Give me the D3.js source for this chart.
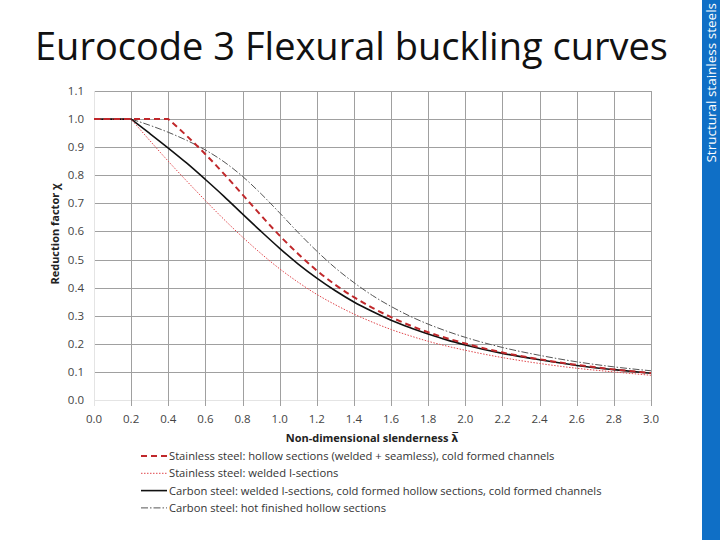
<!DOCTYPE html>
<html>
<head>
<meta charset="utf-8">
<script src="https://cdn.jsdelivr.net/npm/d3@7"></script>
<style>
  body { margin: 0; background: #fff; }
  svg text { font-family: "Open Sans", "DejaVu Sans", sans-serif; }
</style>
</head>
<body>
<svg id="chart" width="720" height="540"></svg>
<script>
// slenderness values shared by all curves
var lambdas = [0, 0.2, 0.3, 0.4, 0.5, 0.6, 0.7, 0.8, 0.9, 1.0, 1.1, 1.2, 1.3, 1.4, 1.5, 1.6, 1.7, 1.8, 1.9, 2.0, 2.2, 2.4, 2.6, 2.8, 3.0];

// reduction factor
var ssHollow  = [1, 1, 1, 1, 0.940, 0.875, 0.805, 0.731, 0.657, 0.585, 0.520, 0.461, 0.410, 0.366, 0.328, 0.295, 0.266, 0.241, 0.220, 0.201, 0.169, 0.145, 0.125, 0.109, 0.096];
var ssWeldedI = [1, 1, 0.924, 0.850, 0.779, 0.710, 0.643, 0.580, 0.521, 0.467, 0.419, 0.376, 0.339, 0.306, 0.277, 0.251, 0.229, 0.209, 0.192, 0.177, 0.151, 0.130, 0.113, 0.100, 0.088];
var csWelded  = [1, 1, 0.949, 0.897, 0.843, 0.785, 0.725, 0.662, 0.600, 0.540, 0.484, 0.434, 0.389, 0.349, 0.315, 0.284, 0.258, 0.235, 0.214, 0.196, 0.166, 0.143, 0.123, 0.108, 0.095];
var csHotFin  = [1, 1, 0.978, 0.953, 0.924, 0.890, 0.848, 0.796, 0.734, 0.666, 0.596, 0.530, 0.470, 0.418, 0.372, 0.333, 0.299, 0.270, 0.245, 0.223, 0.187, 0.159, 0.136, 0.118, 0.104];
// index where each curve leaves the plateau
var plateauEnd = [3, 1, 1, 1];

var seriesNames = [
  "Stainless steel: hollow sections (welded + seamless), cold formed channels",
  "Stainless steel: welded I-sections",
  "Carbon steel: welded I-sections, cold formed hollow sections, cold formed channels",
  "Carbon steel: hot finished hollow sections"
];
var xTicks = d3.range(0, 3.01, 0.2);
var yTicks = d3.range(0, 1.11, 0.1);

var svg = d3.select("#chart");

var x = d3.scaleLinear().domain([0, 3]).range([94, 651]);
var y = d3.scaleLinear().domain([0, 1.1]).range([400, 91]);

// side band
svg.append("rect").attr("x", 702).attr("y", 0).attr("width", 18).attr("height", 540).style("fill", "#0f6fc6");
svg.append("text")
  .attr("transform", "translate(715.5,3) rotate(-90)")
  .attr("text-anchor", "end")
  .style("font-size", "13.5px")
  .style("fill", "#fff")
  .text("Structural stainless steels");

svg.append("text")
  .attr("x", 35).attr("y", 60)
  .style("font-size", "38px")
  .style("fill", "#111")
  .text("Eurocode 3 Flexural buckling curves");

// grid
var grid = svg.append("g");
grid.selectAll("line.h").data(yTicks).enter().append("line")
  .attr("x1", x(0)).attr("x2", x(3))
  .attr("y1", function(d) { return Math.round(y(d)) + 0.5 })
  .attr("y2", function(d) { return Math.round(y(d)) + 0.5 })
  .style("stroke", function(d, i) { return i == 0 ? "#e4e4e4" : "#a0a0a0" })
  .style("stroke-width", 1);
grid.selectAll("line.v").data(xTicks).enter().append("line")
  .attr("y1", y(1.1)).attr("y2", 406)
  .attr("x1", function(d) { return Math.round(x(d)) + 0.5 })
  .attr("x2", function(d) { return Math.round(x(d)) + 0.5 })
  .style("stroke", function(d, i) { return i == 0 ? "#e4e4e4" : "#a0a0a0" })
  .style("stroke-width", 1);

// tick labels
svg.append("g").selectAll("text").data(yTicks).enter().append("text")
  .attr("x", 84).attr("y", function(d) { return y(d) + 4 })
  .attr("text-anchor", "end")
  .style("font-size", "11.5px").style("fill", "#444")
  .text(function(d) { return d3.format(".1f")(d) });
svg.append("g").selectAll("text").data(xTicks).enter().append("text")
  .attr("x", function(d) { return x(d) }).attr("y", 423)
  .attr("text-anchor", "middle")
  .style("font-size", "11.5px").style("fill", "#444")
  .text(function(d) { return d3.format(".1f")(d) });

svg.append("text")
  .attr("transform", "translate(59,234) rotate(-90)")
  .attr("text-anchor", "middle")
  .style("font-size", "11px").style("font-weight", "bold").style("fill", "#222")
  .text("Reduction factor χ");
svg.append("text")
  .attr("x", 372).attr("y", 442)
  .attr("text-anchor", "middle")
  .style("font-size", "11px").style("font-weight", "bold").style("fill", "#222")
  .text("Non-dimensional slenderness λ\u0305");

var styles = [
  {color: "#c0282b", width: 2, dash: "6,4"},
  {color: "#e0474c", width: 1, dash: "1.5,1.5"},
  {color: "#111111", width: 1.6, dash: null},
  {color: "#555555", width: 1, dash: "7,2,1.5,2"}
];
var allSeries = [ssHollow, ssWeldedI, csWelded, csHotFin];

var line = d3.line()
  .x(function(d) { return x(d[0]) })
  .y(function(d) { return y(d[1]) })
  .curve(d3.curveMonotoneX);

// draw carbon first, stainless on top; plateau straight, sharp kink, then smooth curve
[3, 2, 1, 0].forEach(function(s) {
  var pts = lambdas.map(function(l, i) { return [l, allSeries[s][i]] });
  var k = plateauEnd[s];
  var d = "M" + x(pts[0][0]) + "," + y(pts[0][1]) + line(pts.slice(k)).replace(/^M/, "L");
  svg.append("path")
    .attr("d", d)
    .style("fill", "none")
    .style("stroke", styles[s].color)
    .style("stroke-width", styles[s].width)
    .style("stroke-dasharray", styles[s].dash);
});

// legend
var leg = svg.append("g").selectAll("g").data(seriesNames).enter().append("g")
  .attr("transform", function(d, i) { return "translate(141," + (456 + i * 17.3) + ")" });
leg.append("line")
  .attr("x1", 0).attr("x2", 26).attr("y1", 0).attr("y2", 0)
  .style("stroke", function(d, i) { return styles[i].color })
  .style("stroke-width", function(d, i) { return styles[i].width })
  .style("stroke-dasharray", function(d, i) { return styles[i].dash });
leg.append("text")
  .attr("x", 28).attr("y", 4)
  .style("font-size", "11.2px").style("fill", "#333")
  .text(function(d) { return d });
</script>
</body>
</html>
